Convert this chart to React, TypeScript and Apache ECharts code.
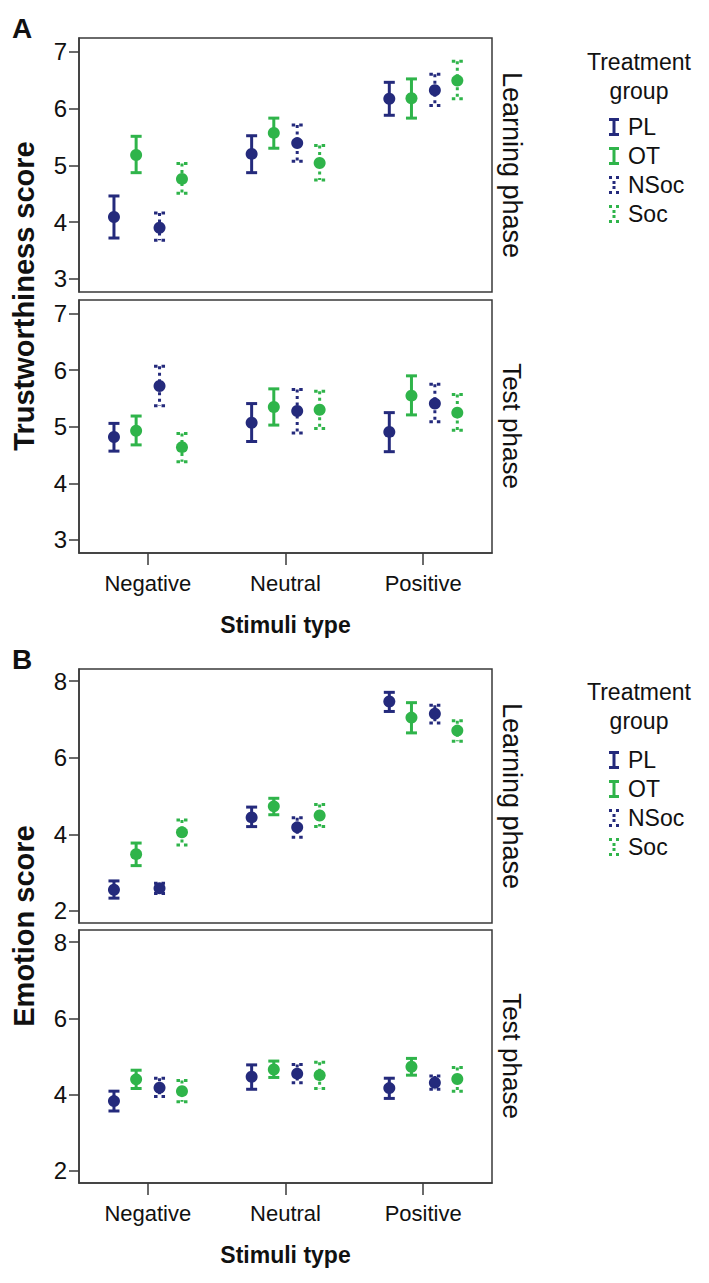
import React, { useEffect, useRef } from "react";
import * as echarts from "echarts";

// ---------- data ----------
const categories = ["Negative", "Neutral", "Positive"];
const groups = ["PL", "OT", "NSoc", "Soc"];
const groupColors = ["#242a7c", "#2fb44a", "#242a7c", "#2fb44a"];

// each entry: [mean, lower CI, upper CI] for Negative, Neutral, Positive
const trustLearnPL = [[4.09, 3.72, 4.46], [5.2, 4.87, 5.52], [6.17, 5.88, 6.46]];
const trustLearnOT = [[5.18, 4.87, 5.51], [5.57, 5.3, 5.83], [6.18, 5.83, 6.52]];
const trustLearnNSoc = [[3.9, 3.68, 4.16], [5.39, 5.07, 5.71], [6.32, 6.05, 6.6]];
const trustLearnSoc = [[4.76, 4.51, 5.03], [5.04, 4.74, 5.35], [6.49, 6.17, 6.83]];

const trustTestPL = [[4.82, 4.57, 5.06], [5.07, 4.74, 5.41], [4.91, 4.56, 5.25]];
const trustTestOT = [[4.93, 4.68, 5.19], [5.35, 5.03, 5.67], [5.55, 5.21, 5.9]];
const trustTestNSoc = [[5.72, 5.37, 6.07], [5.28, 4.89, 5.66], [5.41, 5.09, 5.75]];
const trustTestSoc = [[4.64, 4.38, 4.88], [5.3, 4.97, 5.63], [5.25, 4.94, 5.57]];

const emoLearnPL = [[2.55, 2.33, 2.78], [4.44, 4.2, 4.71], [7.47, 7.21, 7.71]];
const emoLearnOT = [[3.48, 3.18, 3.77], [4.73, 4.51, 4.94], [7.05, 6.65, 7.44]];
const emoLearnNSoc = [[2.59, 2.45, 2.72], [4.18, 3.92, 4.43], [7.15, 6.91, 7.37]];
const emoLearnSoc = [[4.05, 3.72, 4.37], [4.49, 4.2, 4.78], [6.71, 6.43, 6.97]];

const emoTestPL = [[3.83, 3.57, 4.09], [4.47, 4.14, 4.78], [4.17, 3.9, 4.43]];
const emoTestOT = [[4.4, 4.16, 4.64], [4.66, 4.45, 4.88], [4.73, 4.51, 4.95]];
const emoTestNSoc = [[4.18, 3.95, 4.43], [4.55, 4.31, 4.79], [4.31, 4.14, 4.49]];
const emoTestSoc = [[4.09, 3.81, 4.37], [4.51, 4.16, 4.85], [4.41, 4.09, 4.71]];

const trustTicks = [3, 4, 5, 6, 7];
const emoTicks = [2, 4, 6, 8];

const panelData = [
  [trustLearnPL, trustLearnOT, trustLearnNSoc, trustLearnSoc],
  [trustTestPL, trustTestOT, trustTestNSoc, trustTestSoc],
  [emoLearnPL, emoLearnOT, emoLearnNSoc, emoLearnSoc],
  [emoTestPL, emoTestOT, emoTestNSoc, emoTestSoc],
];

const FONT = "Liberation Sans, Arial, Helvetica, sans-serif";
const offsets = [-0.246, -0.085, 0.085, 0.248];

const solidIcon = "path://M0 0H10V3H6.5V15H10V18H0V15H3.5V3H0Z";
const dottedIcon =
  "path://M0 0H3V3H0Z M7 0H10V3H7Z M3.5 5H6.5V8H3.5Z M3.5 10H6.5V13H3.5Z M0 15H3V18H0Z M7 15H10V18H7Z";

export default function App() {
  const ref = useRef<HTMLDivElement>(null);

  useEffect(() => {
    if (!ref.current) return;
    const chart = echarts.init(ref.current, undefined, { renderer: "svg" });

    const grids = [
      { left: 79, top: 38, width: 413, height: 254 },
      { left: 79, top: 300, width: 413, height: 253 },
      { left: 79, top: 669, width: 413, height: 254 },
      { left: 79, top: 930, width: 413, height: 253 },
    ].map((g) => ({ ...g, show: true, borderColor: "#3a3a3a", borderWidth: 1.5, backgroundColor: "#fff" }));

    const xAxes = grids.map((_, i) => ({
      type: "category",
      gridIndex: i,
      data: categories,
      show: i % 2 === 1,
      axisLine: { show: true, lineStyle: { color: "#3a3a3a", width: 1.5 } },
      axisTick: { show: true, alignWithLabel: true, length: 12, lineStyle: { color: "#3a3a3a", width: 1.5 } },
      axisLabel: { fontSize: 22, margin: 19, color: "#111", fontFamily: FONT },
      name: "Stimuli type",
      nameLocation: "middle",
      nameGap: 60,
      nameTextStyle: { fontSize: 23, fontWeight: "bold", color: "#111", fontFamily: FONT },
      splitLine: { show: false },
    }));

    const yAxes = grids.map((_, i) => {
      const trust = i < 2;
      const ticks = trust ? trustTicks : emoTicks;
      return {
        type: "value",
        gridIndex: i,
        min: trust ? 2.77 : 1.68,
        max: trust ? 7.24 : 8.32,
        axisLine: { show: true, lineStyle: { color: "#3a3a3a", width: 1.5 } },
        axisTick: { show: true, length: 10, customValues: ticks, lineStyle: { color: "#3a3a3a", width: 1.5 } },
        axisLabel: { customValues: ticks, fontSize: 24, margin: 12, color: "#111", fontFamily: FONT },
        splitLine: { show: false },
      };
    });

    const series: any[] = [];
    panelData.forEach((panel, pi) => {
      panel.forEach((rows, gi) => {
        const color = groupColors[gi];
        const dotted = gi >= 2;
        series.push({
          type: "custom",
          name: groups[gi],
          xAxisIndex: pi,
          yAxisIndex: pi,
          itemStyle: { color },
          data: rows.map((r, ci) => [ci, r[0], r[1], r[2]]),
          renderItem: (params: any, api: any) => {
            const ci = api.value(0);
            const band = api.size([1, 0])[0];
            const c = api.coord([ci, api.value(1)]);
            const x = c[0] + band * offsets[gi];
            const yLo = api.coord([ci, api.value(2)])[1];
            const yHi = api.coord([ci, api.value(3)])[1];
            const lineStyle = { stroke: color, lineWidth: 3, lineDash: dotted ? [3, 3.5] : undefined };
            const capStyle = { stroke: color, lineWidth: 3, lineDash: dotted ? [3.5, 4] : undefined };
            return {
              type: "group",
              children: [
                { type: "line", shape: { x1: x, y1: yHi, x2: x, y2: yLo }, style: lineStyle },
                { type: "line", shape: { x1: x - 5.5, y1: yHi, x2: x + 5.5, y2: yHi }, style: capStyle },
                { type: "line", shape: { x1: x - 5.5, y1: yLo, x2: x + 5.5, y2: yLo }, style: capStyle },
                { type: "circle", shape: { cx: x, cy: c[1], r: 6 }, style: { fill: color } },
              ],
            };
          },
        });
      });
    });

    const legendData = groups.map((g, gi) => ({
      name: g,
      icon: gi >= 2 ? dottedIcon : solidIcon,
      itemStyle: { color: groupColors[gi] },
    }));
    const legendBase = {
      orient: "vertical",
      left: 609,
      itemWidth: 12,
      itemHeight: 18,
      itemGap: 5,
      padding: 0,
      selectedMode: false,
      textStyle: { fontSize: 23, lineHeight: 24, color: "#111", fontFamily: FONT, padding: [0, 0, 0, 3] },
      data: legendData,
    };

    const txt = (text: string, x: number, y: number, size: number, extra: any = {}) => ({
      type: "text",
      x,
      y,
      rotation: extra.rotation || 0,
      style: {
        text,
        fontSize: size,
        fontWeight: extra.bold ? "bold" : "normal",
        fontFamily: FONT,
        fill: "#111",
        align: extra.align || "center",
        verticalAlign: "middle",
      },
    });

    const option = {
      animation: false,
      backgroundColor: "#fff",
      grid: grids,
      xAxis: xAxes,
      yAxis: yAxes,
      series,
      legend: [
        { ...legendBase, top: 115 },
        { ...legendBase, top: 748 },
      ],
      graphic: [
        txt("A", 12, 28, 28, { bold: true, align: "left" }),
        txt("B", 12, 659, 28, { bold: true, align: "left" }),
        txt("Trustworthiness score", 24, 296, 29, { bold: true, rotation: Math.PI / 2 }),
        txt("Emotion score", 24, 926, 29, { bold: true, rotation: Math.PI / 2 }),
        txt("Learning phase", 512, 165, 27, { rotation: -Math.PI / 2 }),
        txt("Test phase", 512, 426, 26, { rotation: -Math.PI / 2 }),
        txt("Learning phase", 512, 796, 27, { rotation: -Math.PI / 2 }),
        txt("Test phase", 512, 1056, 26, { rotation: -Math.PI / 2 }),
        txt("Treatment", 639, 62, 23),
        txt("group", 639, 91, 23),
        txt("Treatment", 639, 692, 23),
        txt("group", 639, 721, 23),
      ],
    };

    chart.setOption(option as any);
    return () => chart.dispose();
  }, []);

  return (
    <div
      ref={ref}
      style={{ position: "absolute", left: 0, top: 0, width: 709, height: 1283, background: "#fff" }}
    />
  );
}
